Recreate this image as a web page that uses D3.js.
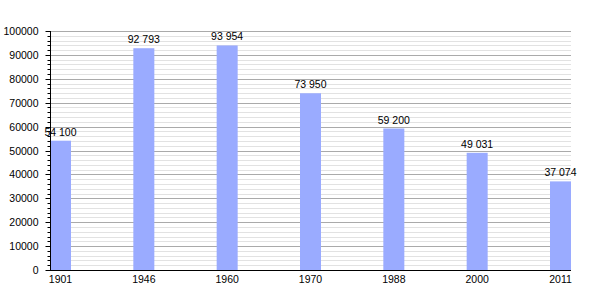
<!DOCTYPE html>
<html>
<head>
<meta charset="utf-8">
<script src="https://cdn.jsdelivr.net/npm/d3@7"></script>
<style>
  body { margin: 0; background: #fff; }
  svg { display: block; font-family: "Liberation Sans", Arial, sans-serif; }
</style>
</head>
<body>
<svg id="chart" width="600" height="300"></svg>
<script>
// data
const years = ['1901', '1946', '1960', '1970', '1988', '2000', '2011'];
const population = [54100, 92793, 93954, 73950, 59200, 49031, 37074];
const yTicks = [0, 10000, 20000, 30000, 40000, 50000, 60000, 70000, 80000, 90000, 100000];

const plotLeft = 50, plotRight = 571, plotTop = 31, plotBottom = 270;

const svg = d3.select('#chart');

const x = d3.scaleBand()
  .domain(years)
  .range([plotLeft, plotRight])
  .paddingInner(0.748)
  .paddingOuter(0);

const y = d3.scaleLinear()
  .domain([0, 100000])
  .range([plotBottom, plotTop]);

const snap = v => Math.round(y(v)) + 0.5;

// minor grid every 2000
const minor = d3.range(0, 100001, 2000).filter(v => v % 10000 !== 0);
svg.append('g')
  .selectAll('line')
  .data(minor)
  .join('line')
  .attr('x1', plotLeft).attr('x2', plotRight)
  .attr('y1', snap).attr('y2', snap)
  .attr('stroke', '#e2e2e2');

// major grid
svg.append('g')
  .selectAll('line')
  .data(yTicks.slice(1))
  .join('line')
  .attr('x1', plotLeft).attr('x2', plotRight)
  .attr('y1', snap).attr('y2', snap)
  .attr('stroke', '#aaaaaa');

// bars
svg.append('g')
  .selectAll('rect')
  .data(population)
  .join('rect')
  .attr('x', (d, i) => x(years[i]))
  .attr('width', x.bandwidth())
  .attr('y', d => y(d))
  .attr('height', d => y(0) - y(d))
  .attr('fill', '#9aabff');

// value labels, space as thousands separator
const fmt = d3.formatLocale({ thousands: ' ', grouping: [3], decimal: ',', currency: ['', ''] }).format(',');
svg.append('g')
  .selectAll('text')
  .data(population)
  .join('text')
  .attr('x', (d, i) => x(years[i]) + x.bandwidth() / 2)
  .attr('y', d => y(d) - 5)
  .attr('text-anchor', 'middle')
  .attr('font-size', 10.5)
  .attr('fill', '#000')
  .text(d => fmt(d));

// y axis: minor ticks
svg.append('g')
  .attr('transform', `translate(${plotLeft + 0.5},0)`)
  .call(d3.axisLeft(y).tickValues(minor).tickSize(3).tickFormat(''))
  .call(g => g.select('.domain').remove())
  .call(g => g.selectAll('.tick').attr('transform', d => `translate(0,${snap(d)})`));

// y axis: major ticks
svg.append('g')
  .attr('transform', `translate(${plotLeft + 0.5},0)`)
  .call(d3.axisLeft(y).tickValues(yTicks).tickSize(5).tickPadding(7).tickFormat(d3.format('d')))
  .call(g => g.select('.domain').attr('d', `M0,${plotTop}V${plotBottom}`))
  .call(g => g.selectAll('.tick').attr('transform', d => `translate(0,${snap(d)})`))
  .call(g => g.selectAll('text').attr('font-size', 10.5).attr('font-family', null).attr('fill', '#000'));

// x axis
svg.append('g')
  .attr('transform', `translate(0,${plotBottom + 0.5})`)
  .call(d3.axisBottom(x).tickSize(0).tickPadding(5))
  .call(g => g.select('.domain').attr('d', `M${plotLeft},0H${plotRight}`))
  .call(g => g.selectAll('text').attr('font-size', 10.5).attr('font-family', null).attr('fill', '#000'));
</script>
</body>
</html>
